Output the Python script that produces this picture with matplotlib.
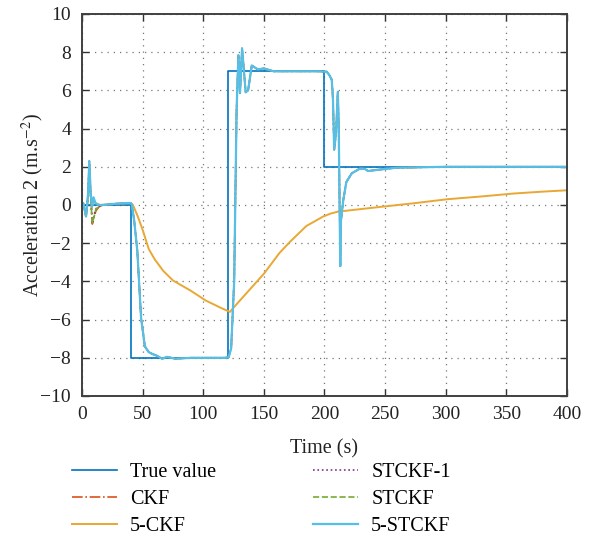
import numpy as np
import matplotlib.pyplot as plt

plt.rcParams['font.family'] = ['Liberation Serif', 'DejaVu Serif']
plt.rcParams['mathtext.fontset'] = 'stix'

# True acceleration profile
t_true = [0, 40, 40, 120, 120, 200, 200, 400]
v_true = [0, 0, -8, -8, 7, 7, 2, 2]

# 5-CKF (slow response)
t_ckf5 = [0, 1, 3.3, 5, 6, 7, 8.2, 9.5, 11, 15, 25, 40, 42, 46, 50, 55, 60, 67, 75,
          90, 102, 115, 122, 126, 138, 150, 163, 172, 185, 199, 205, 211, 225, 246,
          275, 301, 330, 356, 380, 400]
v_ckf5 = [0, 0.1, -0.6, 0.5, 2.2, 0.7, -0.1, 0.3, 0.1, 0.0, 0.05, 0.1, 0.0, -0.6,
          -1.3, -2.3, -2.85, -3.45, -3.95, -4.5, -5.0, -5.4, -5.6, -5.3, -4.45, -3.6,
          -2.5, -1.9, -1.1, -0.6, -0.45, -0.35, -0.25, -0.1, 0.1, 0.3, 0.45, 0.6,
          0.7, 0.77]

# start-up transients of the tracking filters
t_early = [0, 1, 3.3, 5, 6, 7, 8.5, 10, 11.5, 14]
v_ckf_early = [0, 0.1, -0.6, 0.5, 2.2, 0.7, -1.0, -0.6, -0.3, -0.1]
v_stckf1_early = [0, 0.1, -0.5, 0.5, 2.3, 0.6, -1.0, -0.5, -0.2, -0.05]
v_stckf_early = [0, 0.1, -0.6, 0.4, 2.2, 0.5, -0.95, -0.6, -0.2, -0.1]
t_5st_early = [0, 1, 3.3, 5, 6, 7, 8.2, 9.5, 11, 13.7]
v_5st_early = [0, 0.1, -0.6, 0.6, 2.3, 0.8, -0.1, 0.4, 0.1, 0.0]

# common tracking response after the start-up (filters overlap here)
t_track = [17, 25, 35, 40, 41, 43, 45.6, 48.7, 51.8, 55, 58, 62, 66, 70, 77, 90, 105,
           118, 121, 123, 125.5, 127.5, 129, 130.3, 132, 135, 137, 140, 145, 150,
           158, 175, 195, 201.8, 204, 206, 207, 208, 209.5, 211, 211.7, 212.3, 213,
           213.6, 215.5, 218, 222.5, 229, 233, 236, 245, 259, 300, 400]
v_track = [0.0, 0.05, 0.1, 0.1, 0.05, -0.8, -2.4, -5.9, -7.4, -7.7, -7.8, -7.9, -8.05,
           -7.95, -8.05, -8.0, -8.0, -8.0, -7.96, -7.5, -4.0, 5.0, 7.85, 5.86, 8.2,
           5.9, 6.0, 7.3, 7.1, 7.15, 7.0, 7.0, 7.0, 6.98, 6.8, 6.55, 5.5, 2.9, 3.76,
           5.93, 4.2, 0.96, -3.2, -0.8, 0.26, 1.2, 1.66, 1.9, 1.9, 1.78, 1.85, 1.95,
           2.0, 2.0]

fig = plt.figure(figsize=(5.97, 5.36), dpi=100)
ax = fig.add_axes([0.1374, 0.2612, 0.8123, 0.7127])

ax.plot(t_true, v_true, color='#0072BD', lw=1.2, label='True value')
ax.plot(t_early + t_track, v_ckf_early + v_track, color='#D95319', lw=1.2,
        ls='-.', label='CKF')
ax.plot(t_ckf5, v_ckf5, color='#E9A733', lw=1.4, label='5-CKF')
ax.plot(t_early + t_track, v_stckf1_early + v_track, color='#7E2F8E', lw=1.2,
        ls=':', label='STCKF-1')
ax.plot(t_early + t_track, v_stckf_early + v_track, color='#77AC30', lw=1.2,
        ls='--', label='STCKF')
ax.plot(t_5st_early + t_track, v_5st_early + v_track, color='#55BFE8', lw=1.6,
        label='5-STCKF')

ax.set_xlim(0, 400)
ax.set_ylim(-10, 10)
ax.set_xticks(np.arange(0, 401, 50))
ax.set_yticks(np.arange(-10, 11, 2))
ax.set_yticklabels([str(v).replace('-', '\u2212') for v in range(-10, 11, 2)])
ax.tick_params(direction='in', top=True, right=True, length=5, width=1,
               labelsize=14, colors='#333333', labelcolor='#222222')
ax.tick_params(axis='y', pad=8)
ax.tick_params(axis='x', pad=7)
ax.grid(True, linestyle=(0, (1, 4)), color='#777777', linewidth=0.9)
for s in ax.spines.values():
    s.set_color('#404040')
    s.set_linewidth(1.4)

ax.set_xlabel('Time (s)', fontsize=14.5, color='#222222', labelpad=12)
ax.set_ylabel('Acceleration 2 (m.s$^{-2}$)', fontsize=14.5, color='#222222', labelpad=-4)

handles, labels = ax.get_legend_handles_labels()
fig.legend(handles, labels,
           loc='upper left', bbox_to_anchor=(0.1206, 0.136), ncol=2,
           frameon=False, fontsize=14.5, handlelength=2.24, handletextpad=0.65,
           columnspacing=4.8, labelspacing=0.39, borderaxespad=0, borderpad=0)

fig.savefig('out.png', dpi=100)
